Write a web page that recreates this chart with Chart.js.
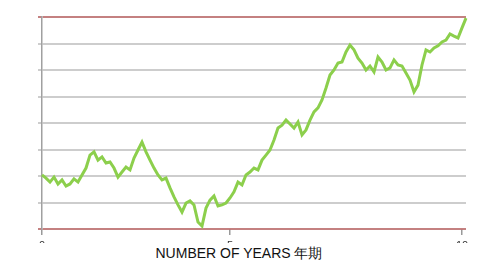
<!DOCTYPE html>
<html>
<head>
<meta charset="utf-8">
<script src="https://cdn.jsdelivr.net/npm/chart.js@4"></script>
<style>
  body { margin: 0; background: #fff; }
  #wrap { position: relative; width: 478px; height: 243px; overflow: hidden; }
  #xTitle { width: 478px; height: 21px; line-height: 21px; text-align: center;
    font-family: "Liberation Sans", Arial, sans-serif; font-size: 14px; color: #111; }
</style>
</head>
<body>
<div id="wrap"><canvas id="c" width="478" height="264"></canvas></div>
<div id="xTitle">NUMBER OF YEARS 年期</div>
<script>
// value, one every small step along the x axis
const values = [
  20.4, 19.2, 17.7, 19.6, 17.0, 18.5, 16.2, 17.0, 18.9, 17.7,
  20.4, 23.0, 27.9, 29.1, 26.0, 27.2, 24.9, 25.3, 23.0, 19.6,
  21.5, 23.4, 22.3, 26.8, 29.8, 32.8, 29.1, 26.0, 23.0, 20.4,
  18.5, 19.2, 15.5, 12.1, 9.1, 6.4, 9.8, 10.6, 9.1, 2.6,
  1.1, 7.9, 10.9, 12.5, 8.7, 9.1, 9.8, 11.7, 14.0, 17.7,
  16.6, 20.4, 21.5, 23.0, 22.3, 26.0, 27.9, 29.8, 33.6, 38.1,
  39.2, 41.1, 39.6, 38.1, 40.4, 35.5, 37.4, 41.1, 44.2, 45.7,
  48.7, 53.2, 58.1, 60.0, 62.6, 63.0, 66.8, 69.4, 67.6, 64.5,
  62.6, 60.0, 61.5, 59.3, 64.9, 63.0, 60.0, 60.8, 63.8, 61.9,
  61.5, 58.9, 56.2, 51.7, 54.3, 61.9, 67.6, 66.8, 68.3, 69.1,
  70.6, 71.3, 73.6, 72.8, 72.1, 75.9, 79.6
];
const tickSteps = [0, 47, 105];
const tickLabels = ["0", "5", "10"];
const yMin = 0, yMax = 80, yStep = 10;

const points = values.map((v, i) => ({ x: i, y: v }));

new Chart(document.getElementById("c"), {
  type: "line",
  data: { datasets: [{
    data: points,
    borderColor: "#8ccf4c",
    borderWidth: 3,
    pointRadius: 0,
    tension: 0,
    clip: false
  }] },
  options: {
    responsive: false,
    animation: false,
    layout: { padding: { top: 17, right: 12, left: 0, bottom: 0 } },
    plugins: { legend: { display: false }, tooltip: { enabled: false } },
    scales: {
      x: {
        type: "linear",
        min: 0,
        max: values.length - 1,
        afterBuildTicks: (s) => { s.ticks = tickSteps.map(v => ({ value: v })); },
        afterFit: (s) => { s.height = 35; },
        border: { display: false },
        grid: { drawOnChartArea: false, drawTicks: true, tickLength: 6, color: "#999", lineWidth: 1.5 },
        ticks: {
          autoSkip: false,
          maxRotation: 0,
          padding: 4,
          color: "#333",
          font: { family: "Liberation Sans, Arial, sans-serif", size: 11 },
          callback: (v) => { const k = tickSteps.indexOf(v); return k >= 0 ? tickLabels[k] : ""; }
        }
      },
      y: {
        min: yMin,
        max: yMax,
        afterFit: (s) => { s.width = 42; },
        border: { display: true, color: "#a0a0a0", width: 1.5 },
        grid: {
          tickLength: 4,
          lineWidth: 2,
          color: (c) => (c.tick && (c.tick.value === yMin || c.tick.value === yMax)) ? "rgba(190,115,115,0.9)" : "#cdcdcd"
        },
        ticks: { stepSize: yStep, display: false }
      }
    }
  }
});
</script>
</body>
</html>
